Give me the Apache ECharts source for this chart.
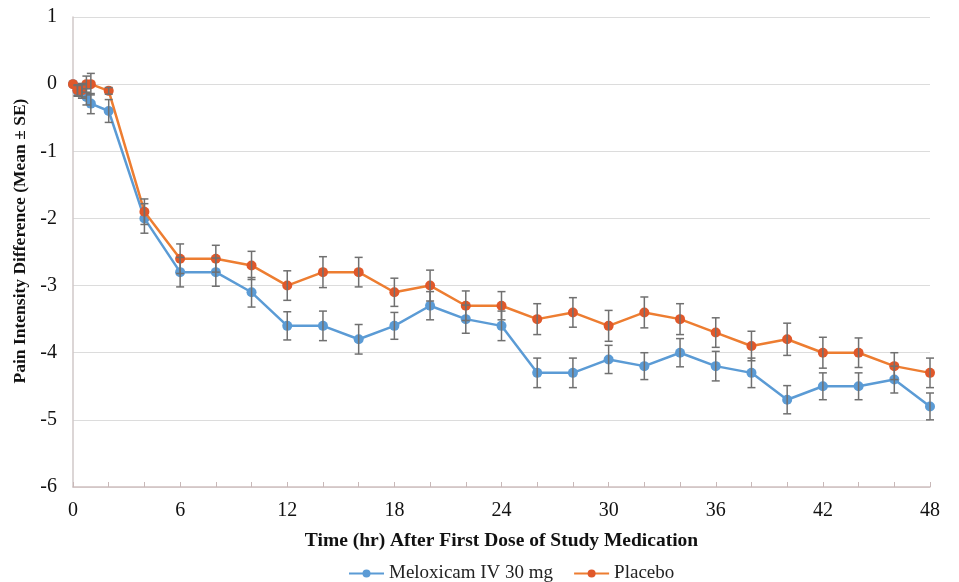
<!DOCTYPE html>
<html>
<head>
<meta charset="utf-8">
<script src="https://cdn.jsdelivr.net/npm/echarts@6/dist/echarts.min.js"></script>
<style>html,body{margin:0;padding:0;background:#fff}#c{width:959px;height:582px}</style>
</head>
<body>
<div id="c"></div>
<script>
const times = [0, 0.25, 0.5, 0.75, 1, 2, 4, 6, 8, 10, 12, 14, 16, 18, 20, 22, 24, 26, 28, 30, 32, 34, 36, 38, 40, 42, 44, 46, 48];
const meloxicam = [0, -0.1, -0.11, -0.19, -0.29, -0.4, -2.0, -2.8, -2.8, -3.1, -3.6, -3.6, -3.8, -3.6, -3.3, -3.5, -3.6, -4.3, -4.3, -4.1, -4.2, -4.0, -4.2, -4.3, -4.7, -4.5, -4.5, -4.4, -4.8];
const meloxicamSE = [0, 0.08, 0.1, 0.12, 0.15, 0.17, 0.22, 0.22, 0.21, 0.22, 0.21, 0.22, 0.22, 0.2, 0.21, 0.21, 0.22, 0.22, 0.22, 0.21, 0.2, 0.21, 0.22, 0.22, 0.21, 0.2, 0.2, 0.2, 0.2];
const placebo = [0, -0.09, -0.09, 0, 0, -0.1, -1.9, -2.6, -2.6, -2.7, -3.0, -2.8, -2.8, -3.1, -3.0, -3.3, -3.3, -3.5, -3.4, -3.6, -3.4, -3.5, -3.7, -3.9, -3.8, -4.0, -4.0, -4.2, -4.3];
const placeboSE = [0, 0.08, 0.1, 0.12, 0.16, 0.05, 0.19, 0.22, 0.2, 0.21, 0.22, 0.23, 0.22, 0.21, 0.23, 0.22, 0.21, 0.23, 0.22, 0.23, 0.23, 0.23, 0.22, 0.22, 0.24, 0.23, 0.22, 0.2, 0.22];
const xTicks = [0, 6, 12, 18, 24, 30, 36, 42, 48];

const font = '"Liberation Serif","Times New Roman",serif';
const blue = '#5b9bd5', orange = '#ed7d31', errColor = '#707070';

function errData(vals, se) {
  return times.map((t, i) => [t, vals[i] - se[i], vals[i] + se[i]]);
}
function errRender(params, api) {
  const x = api.value(0);
  const lo = api.coord([x, api.value(1)]);
  const hi = api.coord([x, api.value(2)]);
  const w = 4;
  const st = { stroke: errColor, lineWidth: 1.5 };
  if (Math.abs(lo[1] - hi[1]) < 1) return null;
  return {
    type: 'group',
    children: [
      { type: 'line', shape: { x1: lo[0], y1: lo[1], x2: hi[0], y2: hi[1] }, style: st },
      { type: 'line', shape: { x1: lo[0] - w, y1: lo[1], x2: lo[0] + w, y2: lo[1] }, style: st },
      { type: 'line', shape: { x1: hi[0] - w, y1: hi[1], x2: hi[0] + w, y2: hi[1] }, style: st }
    ]
  };
}

const chart = echarts.init(document.getElementById('c'));
chart.setOption({
  backgroundColor: '#fff',
  animation: false,
  grid: { left: 73, right: 29, top: 17, bottom: 95, outerBoundsMode: 'none', containLabel: false },
  legend: {
    top: 559,
    left: 343,
    itemWidth: 35,
    itemHeight: 10,
    itemGap: 20,
    textStyle: { fontFamily: font, fontSize: 19, color: '#222' },
    data: ['Meloxicam IV 30 mg', 'Placebo']
  },
  xAxis: {
    type: 'value',
    min: 0, max: 48, interval: 2,
    name: 'Time (hr) After First Dose of Study Medication',
    nameLocation: 'middle',
    nameGap: 44,
    nameTextStyle: { fontFamily: font, fontSize: 19.5, fontWeight: 'bold', color: '#111' },
    axisLine: { onZero: false, lineStyle: { color: '#d0c0c0', width: 1.5 } },
    axisTick: { inside: true, length: 5, lineStyle: { color: '#c8b8b8' } },
    axisLabel: {
      fontFamily: font, fontSize: 20, color: '#111', margin: 14,
      formatter: v => xTicks.includes(v) ? String(v) : ''
    },
    splitLine: { show: false }
  },
  yAxis: {
    type: 'value',
    min: -6, max: 1, interval: 1,
    name: 'Pain Intensity Difference (Mean ± SE)',
    nameLocation: 'middle',
    nameGap: 40,
    nameTextStyle: { fontFamily: font, fontSize: 17.5, fontWeight: 'bold', color: '#111', padding: [0, 0, 0, 22] },
    axisLine: { show: true, lineStyle: { color: '#d0c8c8', width: 1.5 } },
    axisTick: { show: false },
    axisLabel: { fontFamily: font, fontSize: 20, color: '#111', margin: 16 },
    splitLine: { lineStyle: { color: '#dcdcdc', width: 1.2 } }
  },
  series: [
    {
      name: 'Meloxicam IV 30 mg', type: 'line',
      data: times.map((t, i) => [t, meloxicam[i]]),
      symbol: 'circle', symbolSize: 10,
      itemStyle: { color: blue },
      lineStyle: { color: blue, width: 2.5 },
      z: 3
    },
    {
      name: 'Placebo', type: 'line',
      data: times.map((t, i) => [t, placebo[i]]),
      symbol: 'circle', symbolSize: 10,
      itemStyle: { color: '#e0582a' },
      lineStyle: { color: orange, width: 2.5 },
      z: 4
    },
    {
      type: 'custom', renderItem: errRender, data: errData(meloxicam, meloxicamSE),
      encode: { x: 0, y: [1, 2] }, z: 5, silent: true
    },
    {
      type: 'custom', renderItem: errRender, data: errData(placebo, placeboSE),
      encode: { x: 0, y: [1, 2] }, z: 5, silent: true
    }
  ]
});
</script>
</body>
</html>
